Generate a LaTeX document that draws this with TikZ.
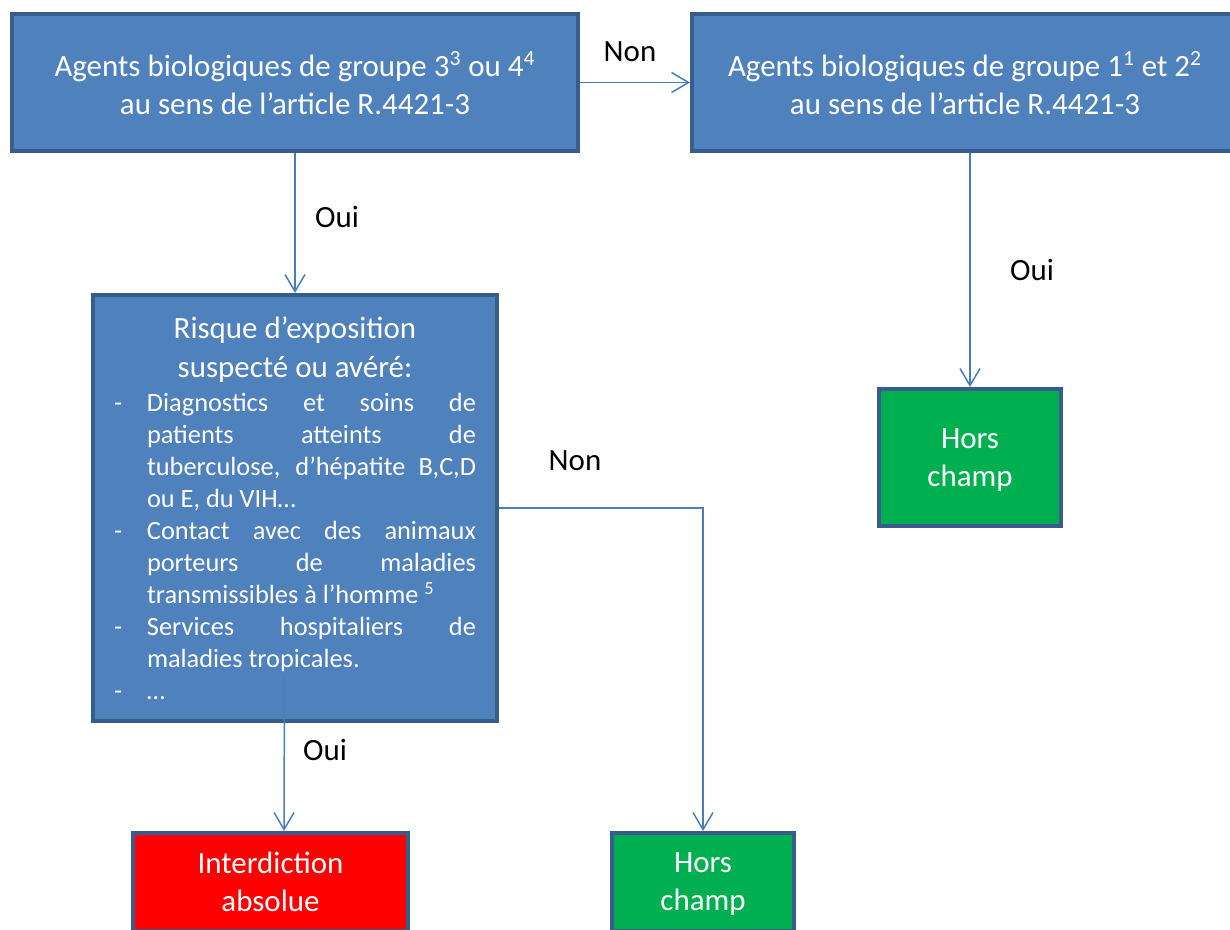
\documentclass[tikz,border=0pt]{standalone}
\usepackage{fontspec}
\setmainfont{Carlito}
\usetikzlibrary{arrows.meta}
\definecolor{boxblue}{HTML}{4F81BD}
\definecolor{boxedge}{HTML}{385D8A}
\definecolor{okgreen}{HTML}{00B050}
\definecolor{linkblue}{HTML}{4A7EBB}
\newcommand{\boxfont}{\fontsize{17.6}{21.6}\selectfont}
\newcommand{\listfont}{\fontsize{15}{18.2}\selectfont}
\newcommand{\itm}[2][s]{\makebox[0.66cm][l]{-}\makebox[6.58cm][#1]{#2}}
\newcommand{\cnt}[2][s]{\makebox[0.66cm]{}\makebox[6.58cm][#1]{#2}}
\begin{document}
\begin{tikzpicture}[
    box/.style={draw=boxedge, line width=2.3pt, fill=boxblue, text=white, align=center, inner sep=0pt, text depth=0pt, font=\boxfont},
    link/.style={draw=linkblue, line width=0.85pt, -{Straight Barb[length=0.34cm,width=0.4cm]}},
    lab/.style={font=\boxfont}
]
    \useasboundingbox (0,0) rectangle (24.6,18.58);
    % boxes
    \node[box, minimum width=11.32cm, minimum height=2.74cm] (grp34) at (5.9,16.93)
        {Agents biologiques de groupe 3\textsuperscript{3} ou 4\textsuperscript{4}\\au sens de l’article R.4421-3};
    \node[box, minimum width=10.92cm, minimum height=2.74cm] (grp12) at (19.3,16.93)
        {Agents biologiques de groupe 1\textsuperscript{1} et 2\textsuperscript{2}\\au sens de l’article R.4421-3};
    \node[box, minimum width=8.08cm, minimum height=8.52cm, font=\listfont] (risk) at (5.9,8.42)
        {\boxfont Risque d’exposition\\[0.14cm]
         \boxfont suspecté ou avéré:\\[0.04cm]
         \itm{Diagnostics et soins de}\\
         \cnt{patients atteints de}\\
         \cnt{tuberculose, d’hépatite B,C,D}\\
         \cnt[l]{ou E, du VIH…}\\
         \itm{Contact avec des animaux}\\
         \cnt{porteurs de maladies}\\
         \cnt[l]{transmissibles à l’homme \textsuperscript{5}}\\
         \itm{Services hospitaliers de}\\
         \cnt[l]{maladies tropicales.}\\
         \itm[l]{…}};
    \node[box, fill=okgreen, minimum width=3.64cm, minimum height=2.74cm] (horsA) at (19.4,9.43) {Hors\\champ};
    \node[box, fill=red, minimum width=5.5cm, minimum height=1.96cm] (interdit) at (5.41,0.94) {Interdiction\\absolue};
    \node[box, fill=okgreen, minimum width=3.64cm, minimum height=1.96cm] (horsB) at (14.06,0.94) {Hors\\champ};
    % connectors
    \draw[link] (grp34) -- (grp12);
    \draw[link] (grp34) -- (risk);
    \draw[link] (grp12.south -| horsA) -- (horsA.north);
    \draw[link] (risk.east) -| (horsB.north);
    \draw[link] ([xshift=-0.21cm,yshift=0.94cm]risk.south) -- ([xshift=0.27cm]interdit.north);
    % labels
    \node[lab] (nonA) at (12.6,17.54) {Non};
    \node[lab] (ouiA) at (6.74,14.24) {Oui};
    \node[lab] (ouiB) at (20.64,13.18) {Oui};
    \node[lab] (nonB) at (11.5,9.36) {Non};
    \node[lab] (ouiC) at (6.5,3.58) {Oui};
\end{tikzpicture}
\end{document}
